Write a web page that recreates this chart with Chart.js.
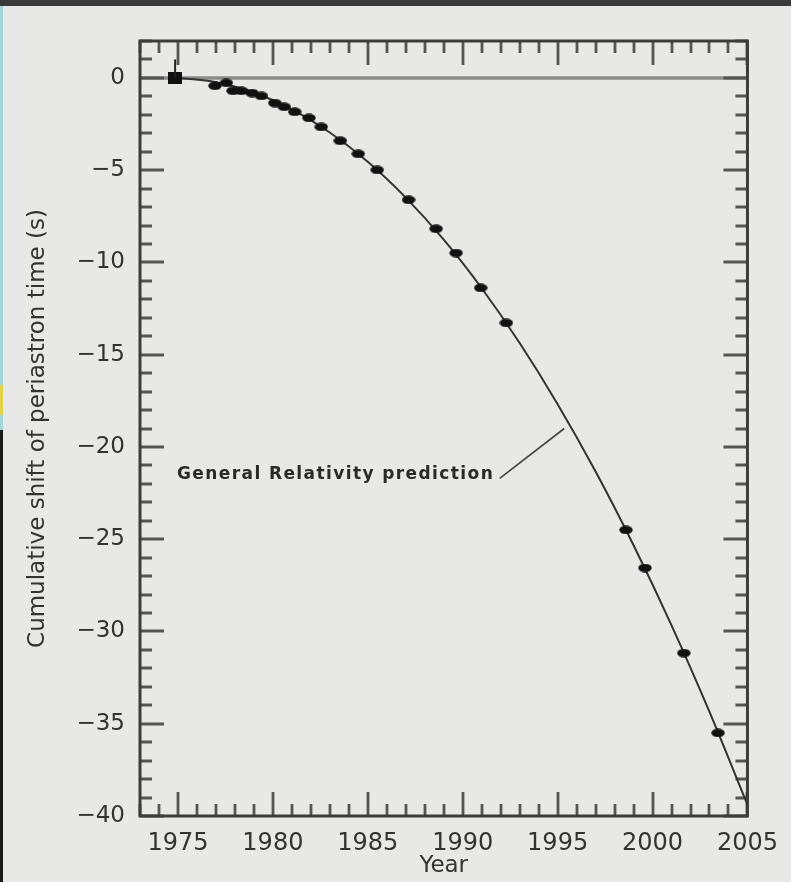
<!DOCTYPE html>
<html><head><meta charset="utf-8">
<script src="https://cdn.jsdelivr.net/npm/chart.js@4.4.1/dist/chart.umd.min.js"></script>
<style>
html,body{margin:0;padding:0;background:#e8e8e6;overflow:hidden;}
#wrap{position:relative;width:791px;height:882px;}
canvas{display:block;}
.deco{position:absolute;}
</style></head><body>
<div id="wrap">
<canvas id="c" width="791" height="882"></canvas>
<div class="deco" style="left:0;top:0;width:791px;height:6px;background:#3a3a3a"></div>
<div class="deco" style="left:0;top:6px;width:3px;height:424px;background:#9fd8d6"></div>
<div class="deco" style="left:0;top:385px;width:3px;height:30px;background:#e3d24c"></div>
<div class="deco" style="left:0;top:430px;width:3px;height:452px;background:#1a1a1a"></div>
</div>
<script>
// ---- data ----
const obsYears = [1974.85, 1976.95, 1977.55, 1977.9, 1978.35, 1978.9, 1979.4, 1980.1, 1980.6, 1981.15,
                  1981.9, 1982.55, 1983.55, 1984.5, 1985.5, 1987.15, 1988.6, 1989.65, 1990.95, 1992.3,
                  1998.6, 1999.6, 2001.65, 2003.45];
const obsShift = [0.0, -0.43, -0.27, -0.70, -0.70, -0.82, -0.98, -1.36, -1.57, -1.84,
                  -2.17, -2.66, -3.41, -4.12, -4.99, -6.61, -8.18, -9.49, -11.38, -13.28,
                  -24.50, -26.56, -31.17, -35.50];
const obsErrUp = [1.0, 0, 0, 0, 0, 0, 0, 0, 0, 0, 0, 0, 0, 0, 0, 0, 0, 0, 0, 0, 0, 0, 0, 0];

const curveYears = [1975, 1977, 1979, 1981, 1983, 1985, 1987, 1989, 1991, 1993, 1995, 1997, 1999, 2001, 2003, 2005];
const curveShift = [0.0, -0.23, -0.79, -1.70, -2.96, -4.55, -6.49, -8.77, -11.40, -14.37, -17.68, -21.33, -25.33, -29.67, -34.36, -39.39];

const xTickValues = [1975, 1980, 1985, 1990, 1995, 2000, 2005];
const xTickLabels = ['1975', '1980', '1985', '1990', '1995', '2000', '2005'];
const yTickValues = [0, -5, -10, -15, -20, -25, -30, -35, -40];
const yTickLabels = ['0', '\u22125', '\u221210', '\u221215', '\u221220', '\u221225', '\u221230', '\u221235', '\u221240'];

const annotText = 'General Relativity prediction';
const annotAnchor = [1974.95, -21.5];          // text start (data coords)
const annotLeader = [[1991.95, -21.7], [1995.35, -19.0]]; // leader line (data coords)
const zeroLevel = 0;

// ---- marker images ----
function makeEllipse(w, h) {
  const c = document.createElement('canvas'); c.width = w; c.height = h;
  const g = c.getContext('2d'); g.fillStyle = '#111';
  g.beginPath(); g.ellipse(w/2, h/2, w/2 - 0.3, h/2 - 0.3, 0, 0, Math.PI*2); g.fill();
  return c;
}
function makeSquare(w, h) {
  const c = document.createElement('canvas'); c.width = w; c.height = h;
  const g = c.getContext('2d'); g.fillStyle = '#111'; g.fillRect(0, 0, w, h);
  return c;
}
const ellImg = makeEllipse(14, 9);
const sqImg = makeSquare(14, 12);

const FONT = "'DejaVu Sans', 'Liberation Sans', sans-serif";

const framePlugin = {
  id: 'frameTicks',
  beforeDraw(chart) {
    const ctx = chart.ctx;
    ctx.save();
    ctx.fillStyle = '#e8e8e6';
    ctx.fillRect(0, 0, chart.width, chart.height);
    ctx.restore();
  },
  beforeDatasetsDraw(chart) {
    const {ctx, chartArea: a, scales: {x, y}} = chart;
    ctx.save();
    // zero reference line
    const y0 = y.getPixelForValue(zeroLevel);
    ctx.strokeStyle = '#8c8c8c'; ctx.lineWidth = 3.5;
    ctx.beginPath(); ctx.moveTo(a.left, y0); ctx.lineTo(a.right, y0); ctx.stroke();
    // ticks on all four sides (inward)
    ctx.strokeStyle = '#555'; ctx.lineWidth = 2.8;
    ctx.beginPath();
    for (let v = Math.ceil(x.min); v <= x.max; v++) {
      const px = Math.round(x.getPixelForValue(v));
      const len = (v % 5 === 0) ? 24 : 12;
      ctx.moveTo(px, a.bottom); ctx.lineTo(px, a.bottom - len);
      ctx.moveTo(px, a.top); ctx.lineTo(px, a.top + len);
    }
    for (let v = Math.ceil(y.min); v <= y.max; v++) {
      const py = Math.round(y.getPixelForValue(v));
      const len = (v % 5 === 0) ? 24 : 12;
      ctx.moveTo(a.left, py); ctx.lineTo(a.left + len, py);
      ctx.moveTo(a.right, py); ctx.lineTo(a.right - len, py);
    }
    ctx.stroke();
    // frame
    ctx.strokeStyle = '#3c3c3c'; ctx.lineWidth = 3;
    ctx.strokeRect(a.left, a.top, a.right - a.left, a.bottom - a.top);
    ctx.restore();
  },
  afterDatasetsDraw(chart) {
    const {ctx, scales: {x, y}} = chart;
    ctx.save();
    // error bars
    ctx.strokeStyle = '#222'; ctx.lineWidth = 2;
    obsYears.forEach((yr, i) => {
      if (obsErrUp[i] > 0) {
        const px = x.getPixelForValue(yr);
        ctx.beginPath();
        ctx.moveTo(px, y.getPixelForValue(obsShift[i]));
        ctx.lineTo(px, y.getPixelForValue(obsShift[i] + obsErrUp[i]));
        ctx.stroke();
      }
    });
    // annotation
    ctx.strokeStyle = '#444'; ctx.lineWidth = 1.6;
    ctx.beginPath();
    ctx.moveTo(x.getPixelForValue(annotLeader[0][0]), y.getPixelForValue(annotLeader[0][1]));
    ctx.lineTo(x.getPixelForValue(annotLeader[1][0]), y.getPixelForValue(annotLeader[1][1]));
    ctx.stroke();
    ctx.fillStyle = '#2a2a2a';
    ctx.font = 'bold 17px ' + FONT;
    try { ctx.letterSpacing = '1.4px'; } catch (e) {}
    ctx.textBaseline = 'middle'; ctx.textAlign = 'left';
    ctx.fillText(annotText, x.getPixelForValue(annotAnchor[0]), y.getPixelForValue(annotAnchor[1]));
    ctx.restore();
  }
};

new Chart(document.getElementById('c'), {
  type: 'scatter',
  data: {
    datasets: [
      {
        type: 'line',
        label: 'General Relativity prediction',
        data: curveYears.map((yr, i) => ({x: yr, y: curveShift[i]})),
        borderColor: '#333', borderWidth: 2,
        pointRadius: 0, fill: false,
        cubicInterpolationMode: 'monotone',
        order: 2
      },
      {
        type: 'scatter',
        label: 'Observed',
        data: obsYears.map((yr, i) => ({x: yr, y: obsShift[i]})),
        pointStyle: (c) => c.dataIndex === 0 ? sqImg : ellImg,
        pointRadius: 6,
        backgroundColor: '#111', borderColor: '#111',
        order: 1
      }
    ]
  },
  options: {
    responsive: false,
    animation: false,
    devicePixelRatio: 1,
    layout: {padding: {top: 41, right: 39, left: 0, bottom: 0}},
    plugins: {legend: {display: false}, tooltip: {enabled: false}},
    scales: {
      x: {
        type: 'linear', min: 1973, max: 2005,
        afterBuildTicks: (s) => { s.ticks = xTickValues.map(v => ({value: v})); },
        afterFit: (s) => { s.height = 66; },
        grid: {display: false, drawTicks: false},
        border: {display: false},
        ticks: {autoSkip: false, maxRotation: 0, minRotation: 0, padding: 13, color: '#333',
                font: {family: FONT, size: 24},
                callback: (v, i) => xTickLabels[i]},
        title: {display: true, text: 'Year', color: '#333',
                font: {family: FONT, size: 23}, padding: {top: 0, bottom: 2}}
      },
      y: {
        type: 'linear', min: -40, max: 2,
        afterBuildTicks: (s) => { s.ticks = yTickValues.map(v => ({value: v})); },
        afterFit: (s) => { s.width = 140; },
        grid: {display: false, drawTicks: false},
        border: {display: false},
        ticks: {autoSkip: false, padding: 15, color: '#333',
                font: {family: FONT, size: 23},
                callback: (v, i) => yTickLabels[i]},
        title: {display: true, text: 'Cumulative shift of periastron time (s)', color: '#333',
                font: {family: FONT, size: 23}, padding: {top: 24, bottom: 0}}
      }
    }
  },
  plugins: [framePlugin]
});
</script>
</body></html>
